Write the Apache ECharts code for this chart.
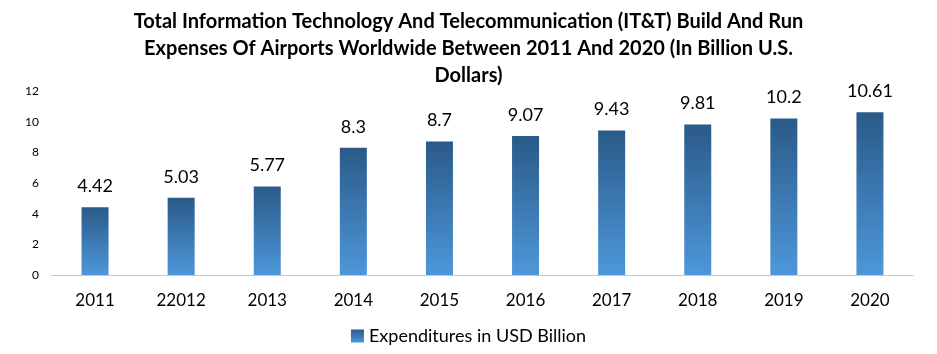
<!DOCTYPE html>
<html>
<head>
<meta charset="utf-8">
<script src="https://cdn.jsdelivr.net/npm/echarts@6/dist/echarts.min.js"></script>
<style>
  html, body { margin: 0; padding: 0; background: #fff; }
  #chart { width: 937px; height: 354px; }
</style>
</head>
<body>
<div id="chart"></div>
<script>
// data
const years = ['2011', '22012', '2013', '2014', '2015', '2016', '2017', '2018', '2019', '2020'];
const expenses = [4.42, 5.03, 5.77, 8.3, 8.7, 9.07, 9.43, 9.81, 10.2, 10.61];
const seriesName = 'Expenditures in USD Billion';
const titleText = 'Total Information Technology And Telecommunication (IT&T) Build And Run\nExpenses Of Airports Worldwide Between 2011 And 2020 (In Billion U.S.\nDollars)';

let chart = echarts.init(document.getElementById('chart'));

let barColor = new echarts.graphic.LinearGradient(0, 0, 0, 1, [
    { offset: 0, color: '#2a5a88' },
    { offset: 1, color: '#4d97da' }
]);

let option = {
    animation: false,
    title: {
        text: titleText,
        left: 'center',
        top: 3,
        textStyle: {
            fontFamily: 'Lato',
            fontWeight: 'bold',
            fontSize: 20,
            lineHeight: 27,
            color: '#000'
        }
    },
    legend: {
        bottom: 4,
        left: 'center',
        itemWidth: 13,
        itemHeight: 13,
        icon: 'rect',
        textStyle: { fontFamily: 'Lato', fontSize: 18, color: '#000' },
        data: [seriesName]
    },
    grid: { left: 52, right: 24, top: 91, bottom: 79 },
    xAxis: {
        type: 'category',
        data: years,
        axisLine: { lineStyle: { color: '#bbb', type: 'dotted' } },
        axisTick: { show: false },
        axisLabel: { fontFamily: 'Lato', fontSize: 17, color: '#000', margin: 17 }
    },
    yAxis: {
        type: 'value',
        min: 0,
        max: 12,
        interval: 2,
        splitLine: { show: false },
        axisLine: { show: false },
        axisTick: { show: false },
        axisLabel: { fontFamily: 'Lato', fontSize: 12, color: '#000', margin: 13 }
    },
    series: [{
        name: seriesName,
        type: 'bar',
        data: expenses,
        barWidth: 27,
        itemStyle: { color: barColor },
        label: {
            show: true,
            position: 'top',
            distance: 12,
            fontFamily: 'Lato',
            fontSize: 18,
            color: '#000'
        }
    }]
};

chart.setOption(option);
</script>
</body>
</html>
